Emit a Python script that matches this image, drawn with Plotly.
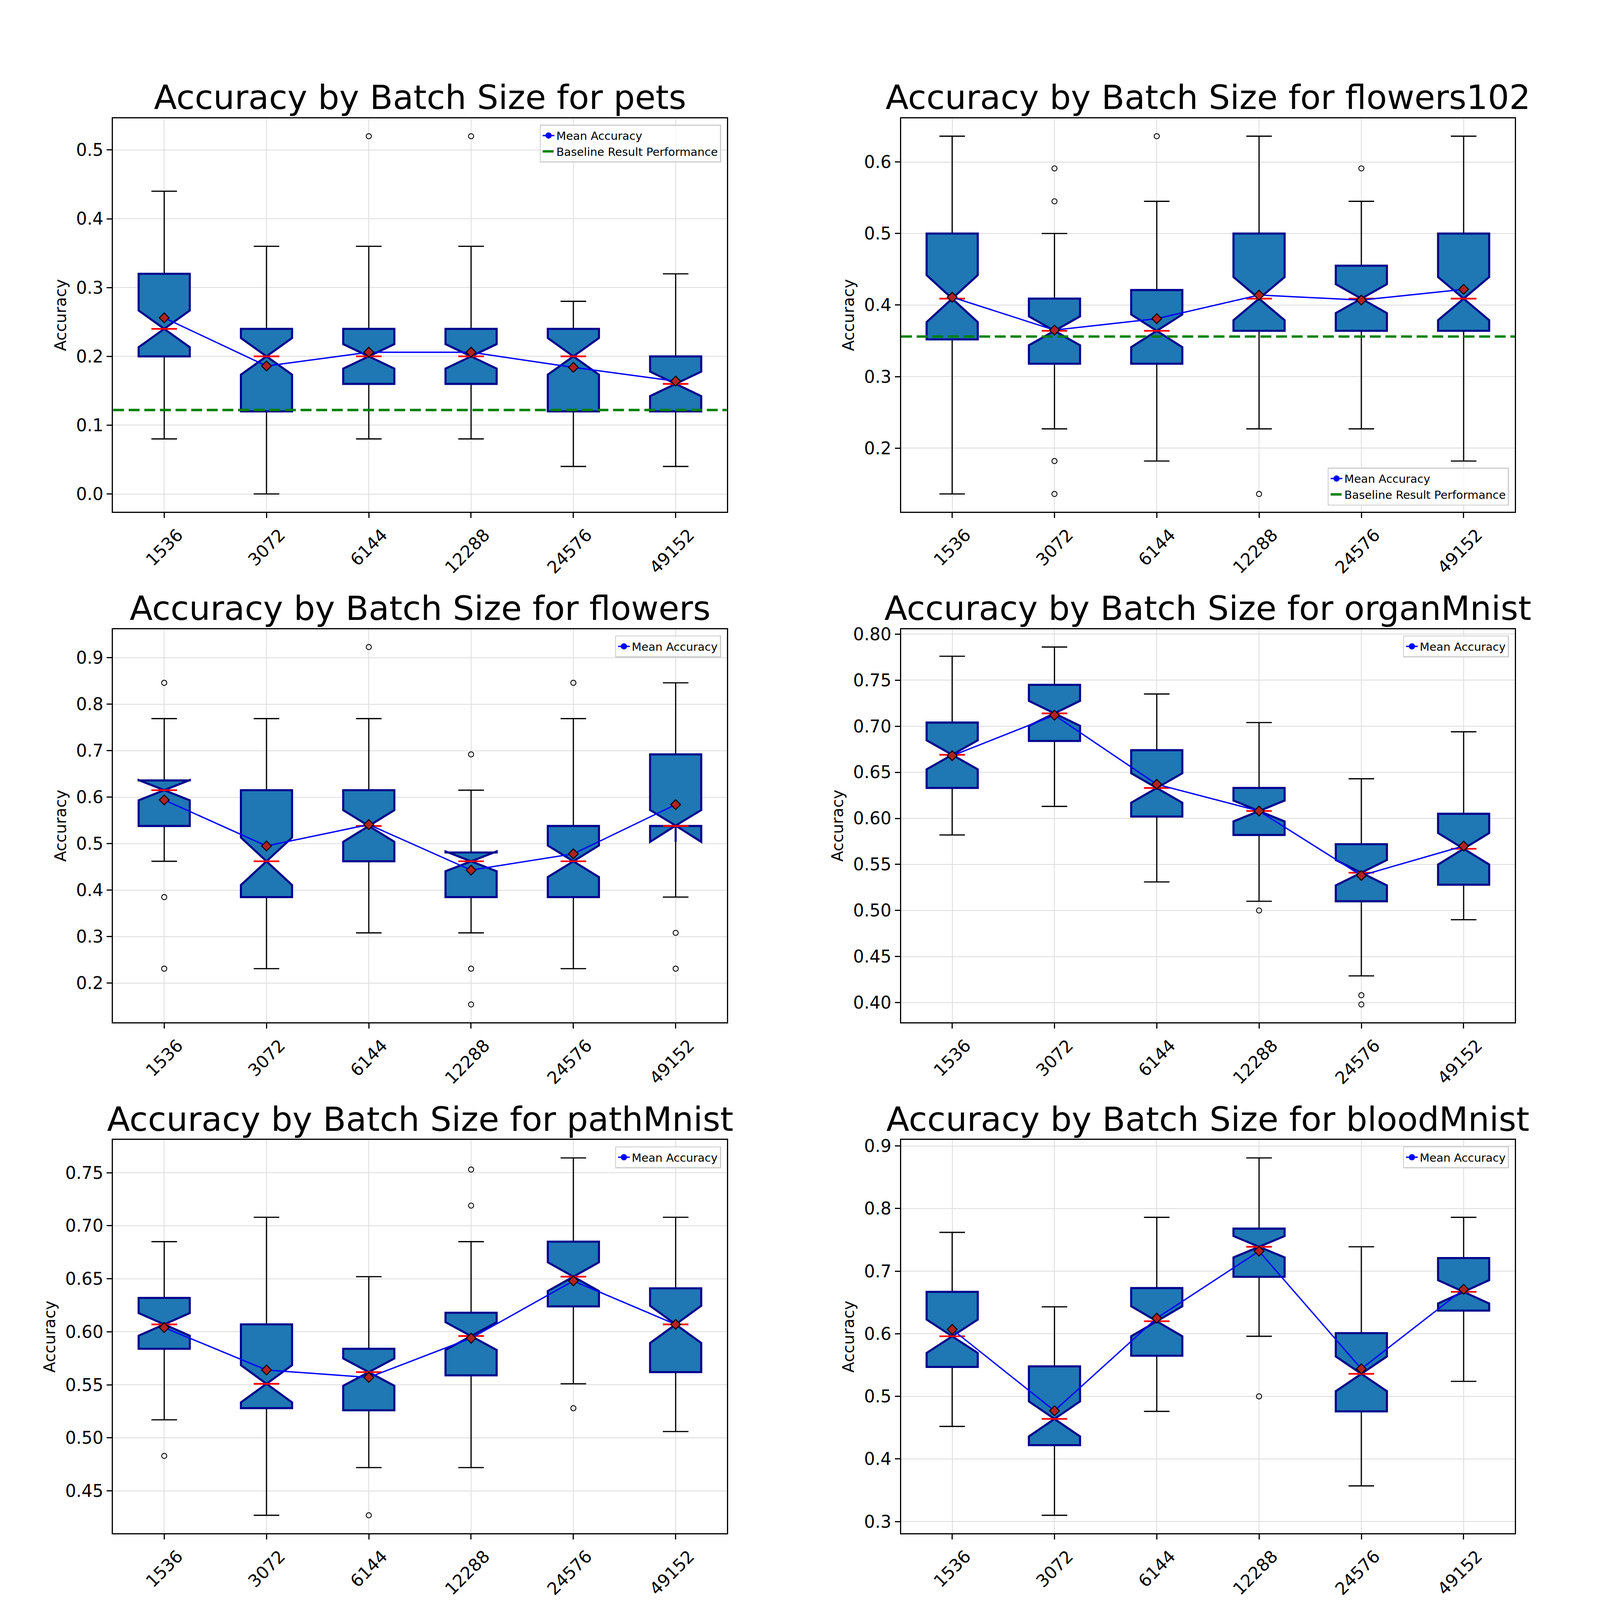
import numpy as np
import plotly.graph_objects as go

W, H = 4656, 4296
S = 1 / 1.14  # the page is shown at ~1.14 picture pixels per css pixel

batch_sizes = ['1536', '3072', '6144', '12288', '24576', '49152']
N_RUNS = 50  # runs per batch size (used for the notch span)

# pets
pets_q1 = [0.20, 0.12, 0.16, 0.16, 0.12, 0.12]
pets_med = [0.24, 0.20, 0.20, 0.20, 0.20, 0.16]
pets_q3 = [0.32, 0.24, 0.24, 0.24, 0.24, 0.20]
pets_lo = [0.08, 0.00, 0.08, 0.08, 0.04, 0.04]
pets_hi = [0.44, 0.36, 0.36, 0.36, 0.28, 0.32]
pets_mean = [0.256, 0.186, 0.206, 0.206, 0.184, 0.164]
pets_out_x = ['6144', '12288']
pets_out_y = [0.52, 0.52]
pets_baseline = 0.122

# flowers102
f102_q1 = [0.352, 0.318, 0.318, 0.364, 0.364, 0.364]
f102_med = [0.409, 0.364, 0.364, 0.409, 0.409, 0.409]
f102_q3 = [0.500, 0.409, 0.421, 0.500, 0.455, 0.500]
f102_lo = [0.136, 0.227, 0.182, 0.227, 0.227, 0.182]
f102_hi = [0.636, 0.500, 0.545, 0.636, 0.545, 0.636]
f102_mean = [0.411, 0.365, 0.381, 0.414, 0.407, 0.422]
f102_out_x = ['3072', '3072', '3072', '3072', '6144', '12288', '24576']
f102_out_y = [0.591, 0.545, 0.182, 0.136, 0.636, 0.136, 0.591]
f102_baseline = 0.356

# flowers
flw_q1 = [0.538, 0.385, 0.462, 0.385, 0.385, 0.538]
flw_med = [0.615, 0.462, 0.538, 0.462, 0.462, 0.538]
flw_q3 = [0.636, 0.615, 0.615, 0.481, 0.538, 0.692]
flw_lo = [0.462, 0.231, 0.308, 0.308, 0.231, 0.385]
flw_hi = [0.769, 0.769, 0.769, 0.615, 0.769, 0.846]
flw_mean = [0.594, 0.495, 0.541, 0.443, 0.478, 0.584]
flw_out_x = ['1536', '1536', '1536', '6144', '12288', '12288', '12288', '24576', '49152', '49152']
flw_out_y = [0.846, 0.385, 0.231, 0.923, 0.692, 0.231, 0.154, 0.846, 0.308, 0.231]

# organMnist
org_q1 = [0.633, 0.684, 0.602, 0.582, 0.510, 0.528]
org_med = [0.669, 0.714, 0.633, 0.608, 0.541, 0.567]
org_q3 = [0.704, 0.745, 0.674, 0.633, 0.572, 0.605]
org_lo = [0.582, 0.613, 0.531, 0.510, 0.429, 0.490]
org_hi = [0.776, 0.786, 0.735, 0.704, 0.643, 0.694]
org_mean = [0.668, 0.712, 0.637, 0.608, 0.538, 0.570]
org_out_x = ['12288', '24576', '24576']
org_out_y = [0.500, 0.408, 0.398]

# pathMnist
path_q1 = [0.584, 0.528, 0.526, 0.559, 0.624, 0.562]
path_med = [0.607, 0.551, 0.562, 0.596, 0.652, 0.607]
path_q3 = [0.632, 0.607, 0.584, 0.618, 0.685, 0.641]
path_lo = [0.517, 0.427, 0.472, 0.472, 0.551, 0.506]
path_hi = [0.685, 0.708, 0.652, 0.685, 0.764, 0.708]
path_mean = [0.604, 0.564, 0.557, 0.594, 0.648, 0.607]
path_out_x = ['1536', '6144', '12288', '12288', '24576']
path_out_y = [0.483, 0.427, 0.753, 0.719, 0.528]

# bloodMnist
blood_q1 = [0.547, 0.422, 0.565, 0.691, 0.476, 0.637]
blood_med = [0.596, 0.464, 0.620, 0.739, 0.536, 0.667]
blood_q3 = [0.667, 0.548, 0.673, 0.768, 0.601, 0.721]
blood_lo = [0.452, 0.310, 0.476, 0.596, 0.357, 0.524]
blood_hi = [0.762, 0.643, 0.786, 0.881, 0.739, 0.786]
blood_mean = [0.607, 0.477, 0.625, 0.732, 0.544, 0.671]
blood_out_x = ['12288']
blood_out_y = [0.500]

panels = [
    dict(name='pets', q1=pets_q1, med=pets_med, q3=pets_q3, lo=pets_lo, hi=pets_hi,
         mean=pets_mean, out_x=pets_out_x, out_y=pets_out_y, base=pets_baseline,
         dtick=0.1, fmt='.1f', leg='top'),
    dict(name='flowers102', q1=f102_q1, med=f102_med, q3=f102_q3, lo=f102_lo, hi=f102_hi,
         mean=f102_mean, out_x=f102_out_x, out_y=f102_out_y, base=f102_baseline,
         dtick=0.1, fmt='.1f', leg='bottom'),
    dict(name='flowers', q1=flw_q1, med=flw_med, q3=flw_q3, lo=flw_lo, hi=flw_hi,
         mean=flw_mean, out_x=flw_out_x, out_y=flw_out_y, base=None,
         dtick=0.1, fmt='.1f', leg='top'),
    dict(name='organMnist', q1=org_q1, med=org_med, q3=org_q3, lo=org_lo, hi=org_hi,
         mean=org_mean, out_x=org_out_x, out_y=org_out_y, base=None,
         dtick=0.05, fmt='.2f', leg='top'),
    dict(name='pathMnist', q1=path_q1, med=path_med, q3=path_q3, lo=path_lo, hi=path_hi,
         mean=path_mean, out_x=path_out_x, out_y=path_out_y, base=None,
         dtick=0.05, fmt='.2f', leg='top'),
    dict(name='bloodMnist', q1=blood_q1, med=blood_med, q3=blood_q3, lo=blood_lo, hi=blood_hi,
         mean=blood_mean, out_x=blood_out_x, out_y=blood_out_y, base=None,
         dtick=0.1, fmt='.1f', leg='top'),
]

# axes boxes in reference pixels (left, right) / (top, bottom)
col_px = [(329, 2115), (2622, 4408)]
row_px = [(305, 1365), (1681, 2740), (3057, 4116)]

BOX_FILL = '#1f77b4'
BOX_EDGE = '#00008b'
FONT = 'DejaVu Sans'


def px(v):
    return round(v * S, 1)


positions = np.arange(1, len(batch_sizes) + 1)

fig = go.Figure()
layout = {}
annotations = []

for k, p in enumerate(panels):
    i = k + 1
    xa = 'x' if i == 1 else f'x{i}'
    ya = 'y' if i == 1 else f'y{i}'
    lg = 'legend' if i == 1 else f'legend{i}'
    row, col = divmod(k, 2)
    left, right = col_px[col]
    top, bottom = row_px[row]

    q1 = np.array(p['q1'])
    med = np.array(p['med'])
    q3 = np.array(p['q3'])
    notch = 1.57 * (q3 - q1) / np.sqrt(N_RUNS)

    # whiskers + caps (black)
    fig.add_trace(go.Box(
        x=positions, q1=q1, median=med, q3=q3, lowerfence=p['lo'], upperfence=p['hi'],
        orientation='v', notched=True, notchspan=notch, notchwidth=0.5, width=0.5,
        whiskerwidth=0.5, fillcolor='rgba(0,0,0,0)', line=dict(color='black', width=px(3.5)),
        boxpoints=False, showlegend=False, hoverinfo='skip', xaxis=xa, yaxis=ya))
    # notched box body
    fig.add_trace(go.Box(
        x=positions, q1=q1, median=med, q3=q3, lowerfence=q1, upperfence=q3,
        orientation='v', notched=True, notchspan=notch, notchwidth=0.5, width=0.5,
        whiskerwidth=0, fillcolor=BOX_FILL, line=dict(color=BOX_EDGE, width=px(6)),
        boxpoints=False, showlegend=False, hoverinfo='skip', xaxis=xa, yaxis=ya))
    # red median
    fig.add_trace(go.Box(
        x=positions, q1=med, median=med, q3=med, lowerfence=med, upperfence=med,
        orientation='v', width=0.25, whiskerwidth=0, fillcolor='rgba(0,0,0,0)',
        line=dict(color='red', width=px(5)), boxpoints=False, showlegend=False,
        hoverinfo='skip', xaxis=xa, yaxis=ya))

    # fliers
    ox = [positions[batch_sizes.index(b)] for b in p['out_x']]
    fig.add_trace(go.Scatter(
        x=ox, y=p['out_y'], mode='markers', showlegend=False, hoverinfo='skip',
        marker=dict(symbol='circle-open', size=px(15), color='black', line=dict(width=px(2.5))),
        xaxis=xa, yaxis=ya))

    # mean line
    fig.add_trace(go.Scatter(
        x=positions, y=p['mean'], mode='lines+markers', name='Mean Accuracy',
        line=dict(color='blue', width=px(4)), marker=dict(size=px(20), color='blue'),
        legend=lg, xaxis=xa, yaxis=ya))

    if p['base'] is not None:
        fig.add_trace(go.Scatter(
            x=[positions[0] - 0.5, positions[-1] + 0.5], y=[p['base'], p['base']],
            mode='lines', name='Baseline Result Performance',
            line=dict(color='green', width=px(7), dash=f'{px(32):.0f}px,{px(14):.0f}px'),
            legend=lg, xaxis=xa, yaxis=ya))

    # mean diamonds
    fig.add_trace(go.Scatter(
        x=positions, y=p['mean'], mode='markers', showlegend=False, hoverinfo='skip',
        marker=dict(symbol='diamond', size=px(22), color='#b22222',
                    line=dict(color='black', width=px(3))),
        xaxis=xa, yaxis=ya))

    # y range like matplotlib autoscale (5 % margins)
    vals = list(p['lo']) + list(p['hi']) + list(p['out_y'])
    lo_v, hi_v = min(vals), max(vals)
    pad = 0.05 * (hi_v - lo_v)

    axis_style = dict(
        showgrid=True, gridcolor='#dcdcdc', gridwidth=px(2.5), zeroline=False,
        showline=True, mirror=True, linecolor='black', linewidth=px(3),
        ticks='outside', ticklen=px(15), tickwidth=px(3), tickcolor='black',
        tickfont=dict(size=px(50), color='black'))
    layout['xaxis' if i == 1 else f'xaxis{i}'] = dict(
        domain=[left / W, right / W], anchor=ya, range=[0.5, len(batch_sizes) + 0.5],
        tickvals=positions, ticktext=batch_sizes, tickangle=-45,
        ticklabelshift=int(round(40 * S)), **axis_style)
    layout['yaxis' if i == 1 else f'yaxis{i}'] = dict(
        domain=[1 - bottom / H, 1 - top / H], anchor=xa,
        range=[lo_v - pad, hi_v + pad], dtick=p['dtick'], tickformat=p['fmt'],
        title=dict(text='Accuracy', font=dict(size=px(46), color='black'), standoff=px(15)),
        **axis_style)

    if p['leg'] == 'top':
        ly, lanchor = 1 - (top + 17) / H, 'top'
    else:
        ly, lanchor = 1 - (bottom - 17) / H, 'bottom'
    layout[lg] = dict(
        x=(right - 17) / W, xanchor='right', y=ly, yanchor=lanchor,
        bgcolor='rgba(255,255,255,0.8)', bordercolor='#cccccc', borderwidth=px(3),
        font=dict(size=px(33), color='black'))

    annotations.append(dict(
        text=f'Accuracy by Batch Size for {p["name"]}', xref='paper', yref='paper',
        x=(left + right) / 2 / W, y=1 - top / H, xanchor='center', yanchor='bottom',
        yshift=px(2), showarrow=False, font=dict(size=px(98), color='black')))

# the figure fills the browser window, so positions follow the window size
fig.update_layout(
    autosize=True,
    margin=dict(l=0, r=0, t=0, b=0),
    paper_bgcolor='white', plot_bgcolor='white',
    font=dict(family=FONT, color='black'),
    boxmode='overlay',
    annotations=annotations,
    **layout)

post = ("document.body.style.margin='0';document.body.style.overflow='hidden';"
        "Plotly.Plots.resize(document.getElementById('{plot_id}'));")
fig.write_html('out.html', default_width='100vw', default_height='100vh',
               config={'responsive': True, 'displayModeBar': False}, post_script=post)
